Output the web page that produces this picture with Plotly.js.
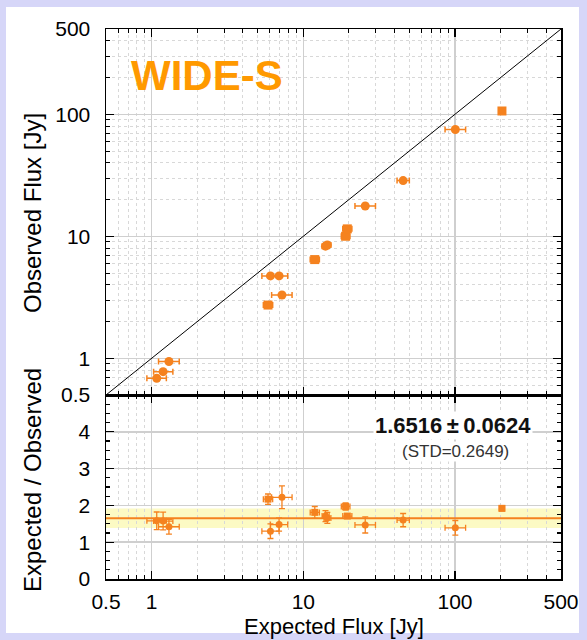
<!DOCTYPE html>
<html><head><meta charset="utf-8">
<script src="https://cdn.plot.ly/plotly-3.0.1.min.js"></script>
<style>html,body{margin:0;padding:0;background:#d6d6f8;} #chart{width:587px;height:640px;}</style>
</head><body><div id="chart"></div>
<script>
// ---- data ----
const expectedFlux = [1.08, 1.19, 1.30, 5.85, 6.07, 6.92, 7.23, 11.9, 14.0, 14.4, 19.0, 19.5, 25.6, 45.5, 100.5, 204];
const observedFlux = [0.686, 0.777, 0.94, 2.73, 4.73, 4.73, 3.30, 6.44, 8.3, 8.5, 10.0, 11.5, 17.7, 28.6, 75, 106.4];
const expErrMinus  = [0.15, 0.16, 0.19, 0.40, 0.74, 0.85, 1.05, 0.80, 0.7, 0.7, 1.2, 1.3, 3.7, 4.0, 14.5, 8];
const expErrPlus   = [0.17, 0.19, 0.22, 0.43, 0.85, 0.97, 1.20, 0.86, 0.8, 0.8, 1.3, 1.4, 4.3, 4.5, 17.0, 8];
const ratioVals    = [1.58, 1.575, 1.42, 2.17, 1.30, 1.48, 2.22, 1.81, 1.71, 1.66, 1.97, 1.71, 1.47, 1.60, 1.39, 1.92];
const ratioErr     = [0.24, 0.24, 0.20, 0.14, 0.20, 0.18, 0.31, 0.16, 0.15, 0.15, 0.10, 0.06, 0.22, 0.18, 0.20, 0.07];
const fluxExtent   = [0.5, 500];
const meanRatio = 1.6516, meanErr = 0.0624, stdRatio = 0.2649;
const logTickVals = [0.5, 1, 10, 100, 500];
const logTickText = ['0.5', '1', '10', '100', '500'];
const logMinorVals = [0.6,0.7,0.8,0.9,2,3,4,5,6,7,8,9,20,30,40,50,60,70,80,90,200,300,400];
const ratioTickVals = [0, 1, 2, 3, 4];
const ratioTickText = ['0', '1', '2', '3', '4'];

// ---- styles ----
const markerShape = ['circle','circle','circle','square','circle','circle','circle','square','circle','circle','square','square','circle','circle','circle','square'];
const ORANGE = '#f5821f';
const W = 587, H = 640, L = 106, R = 26, T = 29, B = 61;
const PW = W - L - R, PH = H - T - B;
const px = x => (x - L) / PW;
const py = y => (H - B - y) / PH;
const split = py(395);

const axisCommon = {
  ticks: 'inside', ticklen: 8, tickwidth: 1.2, tickcolor: '#000',
  showline: true, linecolor: '#000', linewidth: 1.5, mirror: 'ticks',
  showgrid: true, gridcolor: '#cfcfcf', gridwidth: 1.5, zeroline: false,
  tickfont: {size: 21, color: '#000'}
};
const logMinor = {tickvals: logMinorVals, ticks: 'inside', ticklen: 4, tickcolor: '#000', tickwidth: 1,
  showgrid: true, gridcolor: '#d8d8d8', griddash: '3px,3px', gridwidth: 1};

const traces = [
  {x: fluxExtent, y: fluxExtent, xaxis: 'x2', yaxis: 'y2', mode: 'lines', line: {color: '#000', width: 1}, hoverinfo: 'skip'},
  {x: expectedFlux, y: observedFlux, xaxis: 'x2', yaxis: 'y2', mode: 'markers',
   marker: {color: ORANGE, size: 9, symbol: markerShape},
   error_x: {type: 'data', symmetric: false, array: expErrPlus, arrayminus: expErrMinus, color: ORANGE, thickness: 1.5, width: 3}},
  {x: fluxExtent, y: [meanRatio, meanRatio], xaxis: 'x', yaxis: 'y', mode: 'lines', line: {color: ORANGE, width: 2}, hoverinfo: 'skip'},
  {x: expectedFlux, y: ratioVals, xaxis: 'x', yaxis: 'y', mode: 'markers',
   marker: {color: ORANGE, size: 7, symbol: markerShape},
   error_x: {type: 'data', symmetric: false, array: expErrPlus, arrayminus: expErrMinus, color: ORANGE, thickness: 1.3, width: 3},
   error_y: {type: 'data', array: ratioErr, color: ORANGE, thickness: 1.3, width: 3}}
];

const layout = {
  width: W, height: H, margin: {l: L, r: R, t: T, b: B, pad: 0},
  paper_bgcolor: '#d6d6f8', plot_bgcolor: 'rgba(0,0,0,0)', showlegend: false,
  font: {family: 'Liberation Sans, Arial, sans-serif', color: '#000'},
  xaxis: Object.assign({}, axisCommon, {type: 'log', range: [Math.log10(0.5), Math.log10(500)], anchor: 'y',
    tickvals: logTickVals, ticktext: logTickText, minor: logMinor, ticklabelstandoff: 3}),
  xaxis2: Object.assign({}, axisCommon, {type: 'log', range: [Math.log10(0.5), Math.log10(500)], anchor: 'y2', matches: 'x',
    tickvals: logTickVals, showticklabels: false, minor: logMinor}),
  yaxis: Object.assign({}, axisCommon, {range: [0, 5], domain: [0, split], anchor: 'x',
    tickvals: ratioTickVals, ticktext: ratioTickText, ticklabelstandoff: 10,
    minor: {dtick: 0.25, ticks: 'inside', ticklen: 4, tickcolor: '#000', showgrid: false}}),
  yaxis2: Object.assign({}, axisCommon, {type: 'log', range: [Math.log10(0.5), Math.log10(500)], domain: [split, 1], anchor: 'x2',
    tickvals: logTickVals, ticktext: logTickText, minor: logMinor, ticklabelstandoff: 10}),
  shapes: [
    {type: 'rect', xref: 'paper', yref: 'paper', x0: px(6), x1: px(579), y0: py(633), y1: py(7),
     fillcolor: '#ffffff', line: {width: 0}, layer: 'below'},
    {type: 'rect', xref: 'x domain', yref: 'y', x0: 0, x1: 1, y0: meanRatio - stdRatio, y1: meanRatio + stdRatio,
     fillcolor: '#fcfac4', line: {width: 0}, layer: 'below'}
  ],
  annotations: [
    {xref: 'paper', yref: 'paper', x: px(129), y: py(75), xanchor: 'left', yanchor: 'middle', showarrow: false,
     text: '<b>WIDE-S</b>', font: {size: 42, color: '#ff9900'}},
    {xref: 'paper', yref: 'paper', x: px(453), y: py(425), xanchor: 'center', yanchor: 'middle', showarrow: false,
     text: '<b>' + meanRatio.toFixed(4) + '\u2009\u00b1\u2009' + meanErr.toFixed(4) + '</b>', font: {size: 22, color: '#111'},
     bgcolor: '#ffffff', borderpad: 1},
    {xref: 'paper', yref: 'paper', x: px(455), y: py(451), xanchor: 'center', yanchor: 'middle', showarrow: false,
     text: '(STD=' + stdRatio.toFixed(4) + ')', font: {size: 17, color: '#333'}, bgcolor: '#ffffff', borderpad: 0},
    {xref: 'paper', yref: 'paper', x: px(32), y: py(213), xanchor: 'center', yanchor: 'middle', showarrow: false,
     textangle: -90, text: 'Observed Flux [Jy]', font: {size: 24, color: '#000'}},
    {xref: 'paper', yref: 'paper', x: px(32), y: py(480), xanchor: 'center', yanchor: 'middle', showarrow: false,
     textangle: -90, text: 'Expected / Observed', font: {size: 24, color: '#000'}},
    {xref: 'paper', yref: 'paper', x: px(334), y: py(626), xanchor: 'center', yanchor: 'middle', showarrow: false,
     text: 'Expected Flux [Jy]', font: {size: 22, color: '#000'}}
  ]
};

Plotly.newPlot('chart', traces, layout, {displayModeBar: false, staticPlot: true});
</script>
</body></html>
